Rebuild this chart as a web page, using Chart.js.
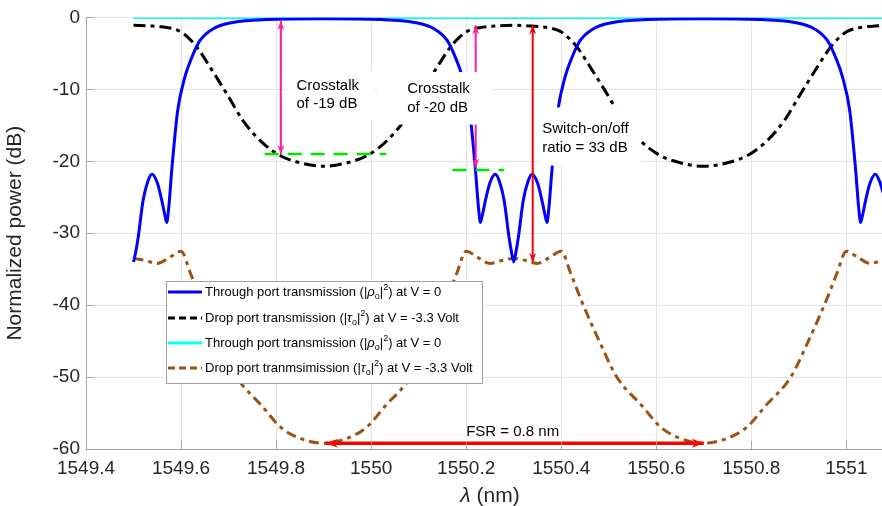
<!DOCTYPE html>
<html>
<head>
<meta charset="utf-8">
<script src="https://cdn.jsdelivr.net/npm/chart.js@4.4.1/dist/chart.umd.min.js"></script>
<style>
  html, body { margin: 0; padding: 0; background: #fff; }
</style>
</head>
<body>
<canvas id="chart" width="882" height="506"></canvas>
<script>
// Valeurs : longueur d'onde (nm) / puissance (dB)
const throughX = [1549.500, 1549.505, 1549.510, 1549.520, 1549.530, 1549.539, 1549.550, 1549.560, 1549.566, 1549.570,
  1549.574, 1549.581, 1549.593, 1549.608, 1549.623, 1549.640, 1549.667, 1549.709, 1549.780, 1549.900,
  1550.020, 1550.091, 1550.133, 1550.160, 1550.177, 1550.192, 1550.207, 1550.219, 1550.226, 1550.230,
  1550.234, 1550.240, 1550.250, 1550.261, 1550.270, 1550.280, 1550.290, 1550.295, 1550.300, 1550.305,
  1550.310, 1550.320, 1550.330, 1550.339, 1550.350, 1550.360, 1550.366, 1550.370, 1550.374, 1550.381,
  1550.393, 1550.408, 1550.423, 1550.440, 1550.467, 1550.509, 1550.580, 1550.700, 1550.820, 1550.891,
  1550.933, 1550.960, 1550.977, 1550.992, 1551.007, 1551.019, 1551.026, 1551.030, 1551.034, 1551.040,
  1551.050, 1551.061, 1551.070, 1551.080];
const throughY = [-34, -32.5, -30.5, -25.5, -22.8, -21.8, -23, -25.6, -27.5, -28.5,
  -26.5, -20.8, -12.9, -8.3, -5.5, -3.2, -1.6, -0.7, -0.3, -0.2,
  -0.3, -0.7, -1.6, -3.2, -5.5, -8.3, -12.9, -20.8, -26.5, -28.5,
  -27.5, -25.6, -23, -21.8, -22.8, -25.5, -30.5, -32.5, -34, -32.5,
  -30.5, -25.5, -22.8, -21.8, -23, -25.6, -27.5, -28.5, -26.5, -20.8,
  -12.9, -8.3, -5.5, -3.2, -1.6, -0.7, -0.3, -0.2, -0.3, -0.7,
  -1.6, -3.2, -5.5, -8.3, -12.9, -20.8, -26.5, -28.5, -27.5, -25.6,
  -23, -21.8, -22.8, -25];

const dropX = [1549.500, 1549.540, 1549.570, 1549.597, 1549.615, 1549.633, 1549.661, 1549.696, 1549.730, 1549.766,
  1549.808, 1549.850, 1549.900, 1549.950, 1549.992, 1550.034, 1550.070, 1550.104, 1550.139, 1550.167,
  1550.185, 1550.203, 1550.230, 1550.260, 1550.300, 1550.340, 1550.370, 1550.397, 1550.415, 1550.433,
  1550.461, 1550.496, 1550.530, 1550.566, 1550.608, 1550.650, 1550.700, 1550.750, 1550.792, 1550.834,
  1550.870, 1550.904, 1550.939, 1550.967, 1550.985, 1551.003, 1551.030, 1551.060, 1551.100];
const dropY = [-1.1, -1.2, -1.4, -1.9, -2.8, -4.1, -6.9, -10.6, -14.3, -17.1,
  -19.2, -20.2, -20.7, -20.2, -19.2, -17.1, -14.3, -10.6, -6.9, -4.1,
  -2.8, -1.9, -1.4, -1.2, -1.1, -1.2, -1.4, -1.9, -2.8, -4.1,
  -6.9, -10.6, -14.3, -17.1, -19.2, -20.2, -20.7, -20.2, -19.2, -17.1,
  -14.3, -10.6, -6.9, -4.1, -2.8, -1.9, -1.4, -1.2, -1.1];

const through2X = [1549.5, 1551.075];
const through2Y = [0, 0];

const drop2X = [1549.500, 1549.525, 1549.550, 1549.575, 1549.600, 1549.620, 1549.642, 1549.680, 1549.717, 1549.770,
  1549.810, 1549.850, 1549.900, 1549.950, 1549.990, 1550.030, 1550.083, 1550.120, 1550.158, 1550.180,
  1550.200, 1550.225, 1550.250, 1550.275, 1550.300, 1550.325, 1550.350, 1550.375, 1550.400, 1550.420,
  1550.442, 1550.480, 1550.517, 1550.570, 1550.610, 1550.650, 1550.700, 1550.750, 1550.790, 1550.830,
  1550.883, 1550.920, 1550.958, 1550.980, 1551.000, 1551.025, 1551.050, 1551.075];
const drop2Y = [-33.5, -33.8, -34.2, -33.4, -32.5, -35.6, -39.3, -45, -50, -54,
  -57, -58.5, -59.2, -58.5, -57, -54, -50, -45, -39.3, -35.6,
  -32.5, -33.4, -34.2, -33.8, -33.5, -33.8, -34.2, -33.4, -32.5, -35.6,
  -39.3, -45, -50, -54, -57, -58.5, -59.2, -58.5, -57, -54,
  -50, -45, -39.3, -35.6, -32.5, -33.4, -34.2, -33.8];

const xTicks = [1549.4, 1549.6, 1549.8, 1550, 1550.2, 1550.4, 1550.6, 1550.8, 1551];
const yTicks = [0, -10, -20, -30, -40, -50, -60];

// Légende (texte riche : indice / exposant)
const legendRows = [
  [{t: 'Through port transmission (|'}, {t: 'ρ', it: true}, {t: 'o', sub: true}, {t: '|'}, {t: '2', sup: true}, {t: ') at V = 0'}],
  [{t: 'Drop port transmission (|'}, {t: 'τ', it: true}, {t: 'o', sub: true}, {t: '|'}, {t: '2', sup: true}, {t: ') at V = -3.3 Volt'}],
  [{t: 'Through port transmission (|'}, {t: 'ρ', it: true}, {t: 'o', sub: true}, {t: '|'}, {t: '2', sup: true}, {t: ') at V = 0'}],
  [{t: 'Drop port tranmsimission (|'}, {t: 'τ', it: true}, {t: 'o', sub: true}, {t: '|'}, {t: '2', sup: true}, {t: ') at V = -3.3 Volt'}]
];

// Annotations (coordonnées en unités des axes)
const crosstalkArrows = [[1549.81, -0.5, -19], [1550.22, -1.1, -20.9]];
const switchArrow = [1550.34, -1.1, -34];
const fsrArrow = [1549.905, 1550.70, -59.2];
const greenLevels = [[1549.776, 1550.032, -19], [1550.171, 1550.28, -21.2]];
const textBoxes = [
  {box: [1549.822, 1550.007, -7.4, -14.3], x: 1549.843, ys: [-9.58, -12.08], lines: ['Crosstalk', 'of -19 dB']},
  {box: [1550.013, 1550.253, -7.6, -14.9], x: 1550.076, ys: [-10.0, -12.64], lines: ['Crosstalk', 'of -20 dB']},
  {box: [1550.354, 1550.568, -12.5, -20.6], x: 1550.36, ys: [-15.56, -18.19], lines: ['Switch-on/off', 'ratio = 33 dB']},
  {box: [1550.195, 1550.40, -56.9, -58.8], x: 1550.20, ys: [-57.64], lines: ['FSR = 0.8 nm']}
];

const FONT = '"Liberation Sans", Arial, sans-serif';
const toXY = (xs, ys) => xs.map((x, i) => ({x, y: ys[i]}));

function arrowHead(ctx, x, y, ang, len, wid) {
    ctx.save();
    ctx.translate(x, y);
    ctx.rotate(ang);
    ctx.beginPath();
    ctx.moveTo(0, 0);
    ctx.lineTo(-len, -wid / 2);
    ctx.lineTo(-len * 0.7, 0);
    ctx.lineTo(-len, wid / 2);
    ctx.closePath();
    ctx.fill();
    ctx.restore();
}

function doubleArrow(ctx, x0, y0, x1, y1, color, lw, len, wid) {
    const ang = Math.atan2(y1 - y0, x1 - x0);
    ctx.strokeStyle = color;
    ctx.fillStyle = color;
    ctx.lineWidth = lw;
    ctx.setLineDash([]);
    ctx.beginPath();
    ctx.moveTo(x0, y0);
    ctx.lineTo(x1, y1);
    ctx.stroke();
    arrowHead(ctx, x1, y1, ang, len, wid);
    arrowHead(ctx, x0, y0, ang + Math.PI, len, wid);
}

function drawRich(ctx, parts, x, y, size) {
    parts.forEach(p => {
        const s = (p.sub || p.sup) ? Math.round(size * 0.72) : size;
        ctx.font = (p.it ? 'italic ' : '') + s + 'px ' + FONT;
        const dy = p.sub ? size * 0.32 : (p.sup ? -size * 0.38 : 0);
        ctx.fillText(p.t, x, y + dy);
        x += ctx.measureText(p.t).width;
    });
}

const annotations = {
    id: 'annotations',
    afterDatasetsDraw(chart) {
        const ctx = chart.ctx;
        const sx = v => chart.scales.x.getPixelForValue(v);
        const sy = v => chart.scales.y.getPixelForValue(v);
        ctx.save();

        // niveaux verts
        ctx.strokeStyle = '#00e400';
        ctx.lineWidth = 2.5;
        ctx.setLineDash([14, 9]);
        greenLevels.forEach(g => {
            ctx.beginPath();
            ctx.moveTo(sx(g[0]), sy(g[2]));
            ctx.lineTo(sx(g[1]), sy(g[2]));
            ctx.stroke();
        });

        // flèches
        crosstalkArrows.forEach(a => doubleArrow(ctx, sx(a[0]), sy(a[1]), sx(a[0]), sy(a[2]), '#ff1c9c', 2, 9, 7));
        doubleArrow(ctx, sx(switchArrow[0]), sy(switchArrow[1]), sx(switchArrow[0]), sy(switchArrow[2]), '#ff0000', 2, 9, 7);
        doubleArrow(ctx, sx(fsrArrow[0]), sy(fsrArrow[2]), sx(fsrArrow[1]), sy(fsrArrow[2]), '#ff0000', 3.5, 12, 9);

        // boîtes de texte
        ctx.textBaseline = 'middle';
        ctx.textAlign = 'left';
        textBoxes.forEach(b => {
            ctx.fillStyle = '#ffffff';
            const x0 = sx(b.box[0]), x1 = sx(b.box[1]), y0 = sy(b.box[2]), y1 = sy(b.box[3]);
            ctx.fillRect(x0, y0, x1 - x0, y1 - y0);
            ctx.fillStyle = '#000000';
            ctx.font = '15px ' + FONT;
            b.lines.forEach((l, i) => ctx.fillText(l, sx(b.x), sy(b.ys[i])));
        });
        ctx.restore();
    },
    afterDraw(chart) {
        const ctx = chart.ctx;
        const area = chart.chartArea;
        const sx = v => chart.scales.x.getPixelForValue(v);
        const sy = v => chart.scales.y.getPixelForValue(v);
        ctx.save();

        // graduations vers l'intérieur
        ctx.strokeStyle = '#a6a6a6';
        ctx.lineWidth = 1;
        ctx.setLineDash([]);
        ctx.beginPath();
        xTicks.forEach(v => { const p = Math.round(sx(v)) + 0.5; ctx.moveTo(p, area.bottom); ctx.lineTo(p, area.bottom - 8); });
        yTicks.forEach(v => { const p = Math.round(sy(v)) + 0.5; ctx.moveTo(area.left, p); ctx.lineTo(area.left + 8, p); });
        ctx.stroke();

        // légende
        const lx = 166, ly = 281, lw = 316, lh = 102;
        ctx.fillStyle = '#ffffff';
        ctx.fillRect(lx, ly, lw, lh);
        ctx.strokeStyle = '#a0a0a0';
        ctx.strokeRect(lx + 0.5, ly + 0.5, lw, lh);
        const ds = chart.data.datasets;
        const rowY = [292, 318, 343, 368];
        legendRows.forEach((row, i) => {
            ctx.strokeStyle = ds[i].borderColor;
            ctx.lineWidth = 3;
            ctx.setLineDash(ds[i].borderDash ? [7, 4] : []);
            ctx.beginPath();
            ctx.moveTo(168, rowY[i]);
            ctx.lineTo(202, rowY[i]);
            ctx.stroke();
            ctx.setLineDash([]);
            ctx.fillStyle = '#000000';
            ctx.textBaseline = 'middle';
            drawRich(ctx, row, 205, rowY[i], 13);
        });

        // titre de l'axe x : lambda en italique
        ctx.fillStyle = '#262626';
        ctx.textBaseline = 'middle';
        ctx.font = 'italic 21px ' + FONT;
        const w1 = ctx.measureText('λ').width;
        ctx.font = '21px ' + FONT;
        const w2 = ctx.measureText(' (nm)').width;
        let tx = 490 - (w1 + w2) / 2;
        ctx.font = 'italic 21px ' + FONT;
        ctx.fillText('λ', tx, 496);
        ctx.font = '21px ' + FONT;
        ctx.fillText(' (nm)', tx + w1, 496);
        ctx.restore();
    }
};

const ctx = document.getElementById('chart').getContext('2d');
const myChart = new Chart(ctx, {
    type: 'line',
    data: {
        datasets: [
            { label: 'Through port transmission at V = 0', data: toXY(throughX, throughY),
              borderColor: '#0000ff', borderWidth: 3, pointRadius: 0, cubicInterpolationMode: 'monotone', fill: false },
            { label: 'Drop port transmission at V = -3.3 Volt', data: toXY(dropX, dropY),
              borderColor: '#000000', borderWidth: 3, borderDash: [12, 5, 4, 5], pointRadius: 0, cubicInterpolationMode: 'monotone', fill: false },
            { label: 'Through port transmission at V = 0 (2)', data: toXY(through2X, through2Y),
              borderColor: '#00ffff', borderWidth: 3, pointRadius: 0, fill: false },
            { label: 'Drop port tranmsimission at V = -3.3 Volt', data: toXY(drop2X, drop2Y),
              borderColor: '#9c5212', borderWidth: 3, borderDash: [10, 5, 4, 5], pointRadius: 0, cubicInterpolationMode: 'monotone', fill: false }
        ]
    },
    options: {
        responsive: false,
        animation: false,
        devicePixelRatio: 1,
        layout: { padding: { top: 17, right: 0, left: 0, bottom: 0 } },
        plugins: { legend: { display: false }, tooltip: { enabled: false } },
        scales: {
            x: {
                type: 'linear',
                min: 1549.4,
                max: 1551.075,
                afterBuildTicks: s => { s.ticks = xTicks.map(v => ({value: v})); },
                afterFit: s => { s.height = 57; },
                ticks: {
                    font: { family: FONT, size: 19 }, color: '#262626', padding: 8,
                    maxRotation: 0, autoSkip: false,
                    callback: v => String(+Number(v).toFixed(1))
                },
                grid: { color: '#e4e4e4', drawTicks: false },
                border: { color: '#a6a6a6', width: 1 }
            },
            y: {
                min: -60,
                max: 0,
                afterBuildTicks: s => { s.ticks = yTicks.map(v => ({value: v})); },
                afterFit: s => { s.width = 86; },
                ticks: { font: { family: FONT, size: 19 }, color: '#262626', padding: 6 },
                grid: { color: '#e4e4e4', drawTicks: false },
                border: { color: '#a6a6a6', width: 1 },
                title: { display: true, text: 'Normalized power (dB)', color: '#262626',
                         font: { family: FONT, size: 21 }, padding: { top: 3, bottom: 0 } }
            }
        }
    },
    plugins: [annotations]
});
</script>
</body>
</html>
